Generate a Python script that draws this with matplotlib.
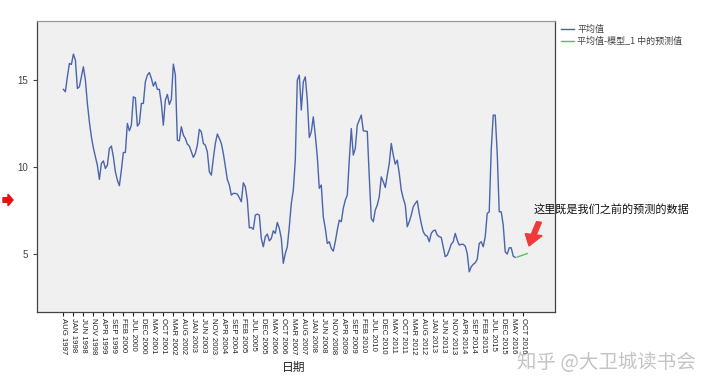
import numpy as np
import matplotlib
matplotlib.use("Agg")
import matplotlib.pyplot as plt
from matplotlib.patches import FancyArrow

plt.rcParams['font.family'] = ['Liberation Sans', 'Noto Sans CJK SC', 'DejaVu Sans']

# ------------------------------------------------------------
# data: monthly mean, AUG 1997 .. JUN 2016, plus model forecast
# ------------------------------------------------------------
avg = [14.47, 14.33, 15.2, 15.96, 15.9, 16.5, 16.15, 14.52, 14.62, 15.2,
       15.77, 15.0, 13.66, 12.6, 11.74, 11.1, 10.6, 10.1, 9.29, 10.21,
       10.36, 9.92, 10.11, 11.07, 11.21, 10.6, 9.73, 9.25, 8.93, 9.83,
       10.84, 10.84, 12.51, 12.09, 12.41, 14.04, 13.98, 12.36, 12.51, 13.66,
       13.66, 14.9, 15.29, 15.44, 15.1, 14.66, 14.9, 14.47, 14.47, 13.66,
       12.41, 13.85, 14.18, 13.6, 13.89, 15.92, 15.29, 11.55, 11.51, 12.32,
       11.84, 11.65, 11.32, 11.21, 10.88, 10.56, 10.79, 11.26, 12.17, 12.03,
       11.36, 11.26, 10.88, 9.73, 9.54, 10.5, 11.36, 11.9, 11.65, 11.36,
       10.79, 10.02, 9.29, 8.97, 8.39, 8.49, 8.49, 8.45, 8.24, 8.01,
       9.1, 8.87, 8.1, 6.51, 6.53, 6.42, 7.24, 7.3, 7.24, 5.9,
       5.42, 6.0, 6.15, 5.76, 5.9, 6.34, 6.19, 6.82, 6.48, 5.9,
       4.47, 5.04, 5.42, 6.57, 7.91, 8.68, 10.4, 15.0, 15.29, 13.28,
       14.9, 15.19, 13.85, 11.7, 12.03, 12.89, 11.84, 10.6, 8.78, 8.97,
       7.14, 6.48, 5.61, 5.71, 5.33, 5.17, 5.71, 6.38, 6.95, 6.86,
       7.63, 8.1, 8.39, 10.4, 12.22, 10.69, 11.07, 12.41, 12.7, 12.99,
       12.09, 12.07, 12.05, 9.44, 7.05, 6.86, 7.53, 7.82, 8.3, 9.44,
       9.16, 8.83, 9.54, 10.21, 11.36, 10.69, 10.17, 10.4, 9.64, 8.68,
       8.2, 7.82, 6.57, 6.86, 7.24, 7.72, 7.91, 8.06, 7.34, 6.76,
       6.28, 6.09, 6.03, 5.71, 6.19, 6.34, 6.38, 6.09, 6.0, 5.96,
       5.42, 4.85, 4.94, 5.23, 5.57, 5.71, 6.19, 5.8, 5.52, 5.56,
       5.56, 5.46, 5.04, 3.98, 4.27, 4.41, 4.5, 4.7, 5.61, 5.71,
       5.42, 6.0, 7.34, 7.43, 10.98, 12.99, 12.99, 10.79, 7.43, 7.43,
       6.67, 5.13, 5.0, 5.36, 5.36, 4.88, 4.81]
forecast = [4.83, 4.87, 4.91, 4.95, 4.99, 5.03]

tick_labels = ["AUG 1997", "JAN 1998", "JUN 1998", "NOV 1998", "APR 1999", "SEP 1999",
               "FEB 2000", "JUL 2000", "DEC 2000", "MAY 2001", "OCT 2001", "MAR 2002",
               "AUG 2002", "JAN 2003", "JUN 2003", "NOV 2003", "APR 2004", "SEP 2004",
               "FEB 2005", "JUL 2005", "DEC 2005", "MAY 2006", "OCT 2006", "MAR 2007",
               "AUG 2007", "JAN 2008", "JUN 2008", "NOV 2008", "APR 2009", "SEP 2009",
               "FEB 2010", "JUL 2010", "DEC 2010", "MAY 2011", "OCT 2011", "MAR 2012",
               "AUG 2012", "JAN 2013", "JUN 2013", "NOV 2013", "APR 2014", "SEP 2014",
               "FEB 2015", "JUL 2015", "DEC 2015", "MAY 2016", "OCT 2016"]
tick_step = 5  # months between labels

# ------------------------------------------------------------
# plot
# ------------------------------------------------------------
fig = plt.figure(figsize=(7.2, 3.87), dpi=100)
ax = fig.add_axes([37/720, 1-312/387, (555-37)/720, (312-21)/387])
ax.set_facecolor("#f0f0f0")

x_avg = np.arange(len(avg))
x_fc = np.arange(len(avg), len(avg) + len(forecast))
l1, = ax.plot(x_avg, avg, color="#4a64ad", lw=1.0)
l2, = ax.plot(x_fc, forecast, color="#5cbf5c", lw=1.0)

ax.set_xlim(-13.2, 245.9)
ax.set_ylim(1.67, 18.4)

ax.set_xticks(np.arange(len(tick_labels)) * tick_step)
ax.set_xticklabels(tick_labels, rotation=-90, fontsize=5.6, color="#222")
ax.set_yticks([5, 10, 15])
ax.tick_params(axis="y", labelsize=7, colors="#444", length=3, width=0.8)
ax.tick_params(axis="x", length=3, width=0.8, pad=1, colors="#222")

for s in ["left", "bottom", "right"]:
    ax.spines[s].set_color("#444")
    ax.spines[s].set_linewidth(0.9)
ax.spines["top"].set_color("#999")
ax.spines["top"].set_linewidth(0.9)

fig.text(294/720, 1-367/387, "日期", fontsize=8.5, ha="center", va="center",
         family=["Noto Sans CJK SC"], color="#222")

fig.legend([l1, l2], ["平均值", "平均值-模型_1 中的预测值"],
           loc="upper left", bbox_to_anchor=(553/720, 1-17/387),
           frameon=False, handlelength=1.4, handletextpad=0.4,
           labelspacing=0.25, prop={"family": ["Noto Sans CJK SC"], "size": 6.5},
           labelcolor="#444")

# annotation
fig.text(534/720, 1-209/387, "这里既是我们之前的预测的数据", fontsize=8,
         ha="left", va="center", family=["Noto Sans CJK SC"], color="#111")
fig.add_artist(FancyArrow(539/720, 1-222/387, -10/720, -24/387, width=0.007,
                          head_width=0.024, head_length=0.03,
                          length_includes_head=True, color="#ee3a3a",
                          transform=fig.transFigure))
fig.add_artist(FancyArrow(3/720, 1-200/387, 10/720, 0, width=0.012,
                          head_width=0.03, head_length=0.007,
                          length_includes_head=True, color="#e81010",
                          transform=fig.transFigure))

# watermark
fig.text(606/720, 1-363/387, "知乎 @大卫城读书会", fontsize=14, ha="center",
         va="center", family=["Noto Sans CJK SC"], color="#c4c4c4")

fig.savefig("out.png", dpi=100)
